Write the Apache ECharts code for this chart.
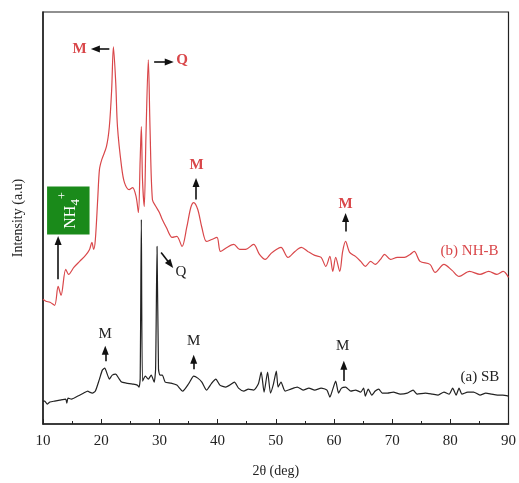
<!DOCTYPE html>
<html>
<head>
<meta charset="utf-8">
<script src="https://cdn.jsdelivr.net/npm/echarts@6/dist/echarts.min.js"></script>
<style>
  html, body { margin: 0; padding: 0; background: #fff; }
  #chart { width: 519px; height: 483px; }
</style>
</head>
<body>
<div id="chart"></div>
<script>
// 2θ (deg) and intensity (a.u.)
const sbAngle = [10.0, 10.3, 10.7, 11.2, 12.0, 12.9, 13.9, 14.1, 14.3, 14.9, 16.0, 17.0, 17.7, 18.0, 18.5, 19.0, 19.7, 20.2, 20.6, 21.1, 21.4, 21.9, 22.5, 23.0, 23.5, 24.3, 25.4, 26.2, 26.5, 26.7, 26.9, 27.1, 27.6, 28.1, 28.6, 29.1, 29.35, 29.6, 29.85, 30.1, 30.5, 31.0, 32.0, 33.0, 34.0, 35.1, 35.9, 36.6, 37.3, 38.1, 39.0, 39.7, 40.4, 41.4, 42.1, 42.9, 43.6, 44.5, 45.3, 46.2, 47.0, 47.5, 48.0, 48.6, 49.1, 49.6, 50.1, 50.4, 50.9, 51.6, 52.6, 53.7, 54.7, 55.7, 56.7, 57.8, 58.8, 59.3, 59.8, 60.3, 60.8, 61.3, 62.0, 62.9, 63.7, 64.6, 65.1, 65.4, 65.9, 66.5, 67.1, 67.7, 68.3, 69.2, 70.2, 71.4, 72.6, 73.6, 74.3, 75.7, 76.9, 77.9, 78.9, 79.8, 80.4, 81.0, 81.5, 82.0, 83.0, 84.0, 85.1, 86.1, 87.1, 88.1, 89.0, 90.0];
const sbIntensity = [23, 23, 20, 22, 23, 24, 25, 21, 26, 25, 28, 31, 33, 32, 31, 33, 45, 54, 56, 49, 45, 49, 50, 46, 42, 41, 40, 39, 37, 45, 205, 43, 48, 45, 49, 42, 55, 178, 55, 49, 49, 42, 41, 39, 33, 41, 48, 46, 42, 34, 41, 45, 39, 37, 39, 42, 36, 33, 35, 34, 40, 52, 32, 52, 31, 40, 53, 37, 42, 33, 35, 37, 34, 36, 34, 36, 34, 27, 35, 43, 31, 36, 37, 33, 34, 32, 36, 28, 35, 29, 33, 35, 31, 31, 32, 30, 31, 34, 30, 31, 30, 29, 32, 30, 36, 29, 36, 30, 32, 32, 29, 31, 30, 29, 29, 28];

const nhbAngle = [10.0, 10.5, 11.2, 12.0, 12.6, 13.1, 13.9, 14.4, 15.3, 16.3, 17.3, 18.0, 18.4, 18.7, 19.0, 19.4, 19.7, 20.1, 20.9, 21.4, 21.8, 22.1, 22.5, 22.8, 23.5, 24.0, 24.8, 25.4, 26.0, 26.4, 26.7, 26.9, 27.1, 27.4, 27.7, 28.1, 28.4, 28.8, 29.4, 30.0, 30.5, 31.2, 32.2, 33.0, 33.9, 34.7, 35.4, 35.9, 36.6, 37.3, 38.1, 39.0, 39.9, 40.5, 41.6, 42.8, 43.8, 44.8, 46.2, 47.2, 48.2, 49.2, 50.1, 50.9, 52.1, 53.3, 54.4, 55.5, 56.7, 57.8, 58.6, 59.3, 59.8, 60.3, 61.0, 61.5, 62.0, 62.7, 63.7, 64.6, 65.4, 66.3, 67.1, 68.0, 68.7, 69.7, 70.9, 72.1, 73.1, 73.8, 74.8, 76.5, 77.4, 78.9, 80.3, 81.5, 83.3, 85.1, 86.6, 88.0, 89.1, 90.0];
const nhbIntensity = [125, 123, 122, 119, 138, 129, 155, 150, 157, 163, 169, 175, 182, 175, 185, 225, 255, 265, 278, 298, 335, 378, 342, 298, 258, 242, 235, 237, 228, 212, 265, 298, 245, 218, 290, 365, 295, 225, 218, 212, 205, 197, 187, 188, 178, 197, 217, 222, 215, 197, 183, 185, 187, 173, 177, 180, 175, 175, 180, 170, 165, 171, 175, 177, 167, 173, 177, 173, 169, 167, 158, 168, 153, 167, 153, 173, 183, 172, 168, 163, 158, 163, 160, 165, 170, 165, 167, 167, 170, 173, 163, 160, 152, 160, 154, 148, 153, 150, 153, 150, 153, 147];

const xTicks = [10, 20, 30, 40, 50, 60, 70, 80, 90];

// phase labels: [angle, intensity, text, bold]
const redLabels = [[16.3, 376, 'M', true], [33.9, 365, 'Q', true], [36.4, 260, 'M', true], [62.0, 220, 'M', true], [83.3, 173, '(b) NH-B', false]];
const blackLabels = [[20.7, 90, 'M', false], [35.9, 83, 'M', false], [61.5, 78, 'M', false], [33.7, 152, 'Q', false], [85.1, 47, '(a) SB', false]];
// arrows: [x1, y1, x2, y2] head at (x2, y2)
const arrows = [
  [21.4, 376, 19.0, 376],
  [29.1, 363, 31.7, 363],
  [36.3, 225, 36.3, 242],
  [62.0, 193, 62.0, 207],
  [12.6, 145, 12.6, 184],
  [30.3, 172, 31.9, 160],
  [20.7, 63, 20.7, 74],
  [35.9, 55, 35.9, 65],
  [61.7, 43, 61.7, 59]
];
// NH4+ box corners in data units
const nh4Box = [10.7, 238, 18.0, 190];

const serif = 'Liberation Serif';
const red = '#d9474a';

const chart = echarts.init(document.getElementById('chart'));

function pairs(a, b) {
  return a.map((x, i) => [x, b[i]]);
}

function labelPoints(list, color) {
  return list.map(l => ({
    coord: [l[0], l[1]],
    value: l[2],
    symbol: 'circle',
    symbolSize: 1,
    itemStyle: { color: 'rgba(0,0,0,0)' },
    label: {
      show: true,
      position: 'inside',
      formatter: l[2],
      color: color,
      fontFamily: serif,
      fontSize: 15,
      fontWeight: l[3] ? 'bold' : 'normal'
    }
  }));
}

const option = {
  animation: false,
  grid: {
    left: 43, right: 7, top: 12, bottom: 58,
    show: true, borderColor: '#222', borderWidth: 1.2
  },
  xAxis: {
    type: 'value',
    min: 10, max: 90, interval: 10,
    name: '2θ (deg)',
    nameLocation: 'middle',
    nameGap: 40,
    nameTextStyle: { fontFamily: serif, fontSize: 14, color: '#222' },
    axisLine: { lineStyle: { color: '#222', width: 1.5 } },
    axisTick: { inside: true, length: 5, lineStyle: { color: '#222' } },
    minorTick: { show: true, splitNumber: 2, length: 3, lineStyle: { color: '#222' } },
    axisLabel: {
      fontFamily: serif, fontSize: 15, color: '#222', margin: 10,
      formatter: v => xTicks.includes(v) ? String(v) : ''
    },
    splitLine: { show: false }
  },
  yAxis: {
    type: 'value',
    min: 0, max: 413,
    name: 'Intensity (a.u)',
    nameLocation: 'middle',
    nameGap: 18,
    nameTextStyle: { fontFamily: serif, fontSize: 14, color: '#222' },
    axisLine: { show: true, lineStyle: { color: '#222', width: 1.5 } },
    axisTick: { show: false },
    axisLabel: { show: false },
    splitLine: { show: false }
  },
  series: [
    {
      name: '(b) NH-B',
      type: 'line',
      data: pairs(nhbAngle, nhbIntensity),
      showSymbol: false,
      smooth: 0.3,
      lineStyle: { color: red, width: 1.2 },
      markPoint: { silent: true, data: labelPoints(redLabels, red) }
    },
    {
      name: '(a) SB',
      type: 'line',
      data: pairs(sbAngle, sbIntensity),
      showSymbol: false,
      smooth: 0.2,
      lineStyle: { color: '#222', width: 1.2 },
      markPoint: { silent: true, data: labelPoints(blackLabels, '#222') },
      markLine: {
        silent: true,
        symbolSize: [7, 9],
        label: { show: false },
        lineStyle: { color: '#111', width: 1.6, type: 'solid' },
        data: arrows.map(a => [
          { coord: [a[0], a[1]], symbol: 'none' },
          { coord: [a[2], a[3]], symbol: 'triangle' }
        ])
      }
    }
  ]
};

chart.setOption(option);

// green NH4+ box placed through the axes
const p1 = chart.convertToPixel({ gridIndex: 0 }, [nh4Box[0], nh4Box[1]]);
const p2 = chart.convertToPixel({ gridIndex: 0 }, [nh4Box[2], nh4Box[3]]);
const bw = p2[0] - p1[0];
const bh = p2[1] - p1[1];
chart.setOption({
  graphic: [{
    type: 'group',
    x: (p1[0] + p2[0]) / 2,
    y: (p1[1] + p2[1]) / 2,
    rotation: Math.PI / 2,
    children: [
      {
        type: 'rect',
        shape: { x: -bh / 2, y: -bw / 2, width: bh, height: bw },
        style: { fill: '#1a8a1a' }
      },
      {
        type: 'text',
        x: 0, y: 2,
        style: {
          text: 'NH{sub|4}{sup|+}',
          fill: '#fff',
          font: '16px "Liberation Serif"',
          align: 'center',
          verticalAlign: 'middle',
          rich: {
            sub: { fontSize: 13, fontFamily: serif, fill: '#fff', padding: [10, 0, 0, 0] },
            sup: { fontSize: 12, fontFamily: serif, fill: '#fff', padding: [0, 0, 14, 0] }
          }
        }
      }
    ]
  }]
});
</script>
</body>
</html>
